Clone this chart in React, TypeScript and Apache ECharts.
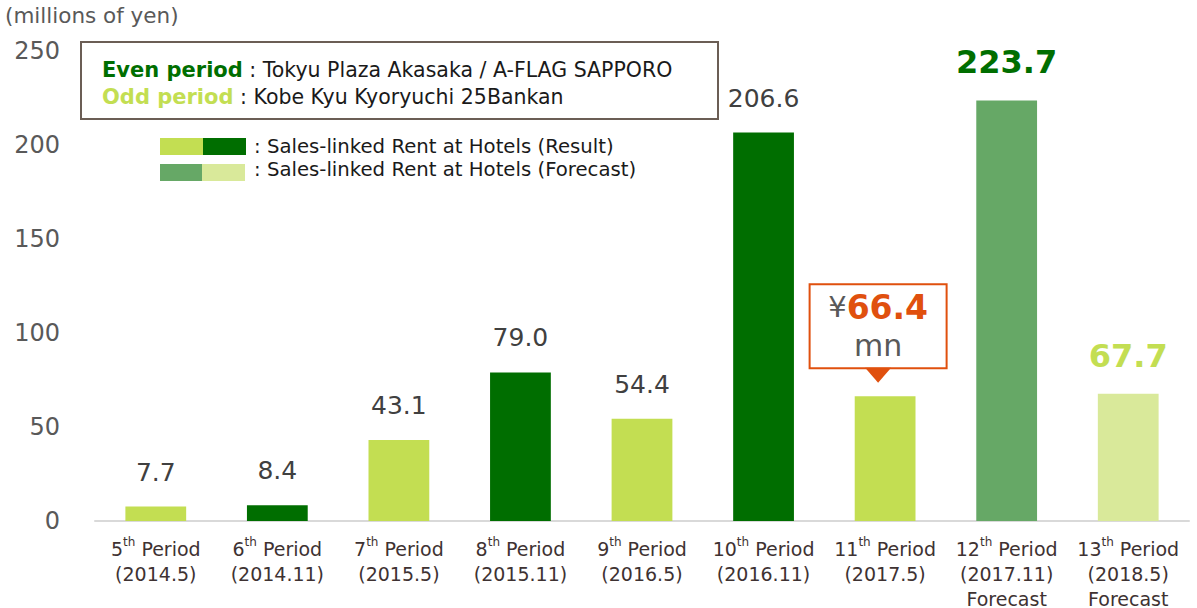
import React, { useEffect, useRef } from "react";
import * as echarts from "echarts";

const periodNums = ["5", "6", "7", "8", "9", "10", "11", "12", "13"];
const periodDates = ["2014.5", "2014.11", "2015.5", "2015.11", "2016.5", "2016.11", "2017.5", "2017.11", "2018.5"];
const isForecast = [false, false, false, false, false, false, false, true, true];
const rentValues = [7.7, 8.4, 43.1, 79.0, 54.4, 206.6, 66.4, 223.7, 67.7];
const yTicks = [0, 50, 100, 150, 200, 250];
const calloutIndex = 6;

const EVEN_RESULT = "#006E00";
const ODD_RESULT = "#C3DE52";
const EVEN_FORECAST = "#66A866";
const ODD_FORECAST = "#D9E99A";
const ORANGE = "#E0500E";
const FONT = "DejaVu Sans";

export default function App() {
  const ref = useRef<HTMLDivElement>(null);
  useEffect(() => {
    if (!ref.current) return;
    const chart = echarts.init(ref.current, null, { renderer: "svg" });
    const data = rentValues.map((v, i) => {
      const even = Number(periodNums[i]) % 2 === 0;
      const color = isForecast[i]
        ? even ? EVEN_FORECAST : ODD_FORECAST
        : even ? EVEN_RESULT : ODD_RESULT;
      const item: any = { value: v, itemStyle: { color } };
      if (i === calloutIndex) {
        item.label = {
          show: true,
          position: "top",
          distance: 29,
          offset: [-7, 0],
          formatter: "{yen|¥}{num|" + v.toFixed(1) + "}\n{mn|mn}",
          backgroundColor: "#fff",
          borderColor: ORANGE,
          borderWidth: 2,
          padding: [3, 0, 3, 0],
          width: 135,
          align: "center",
          rich: {
            yen: { fontSize: 29, color: "#595959", fontFamily: FONT, lineHeight: 38 },
            num: { fontSize: 33, fontWeight: "bold", color: ORANGE, fontFamily: FONT, lineHeight: 38 },
            mn: { fontSize: 30, color: "#595959", fontFamily: FONT, lineHeight: 38 },
          },
        };
      } else if (isForecast[i]) {
        item.label = {
          show: true,
          position: "top",
          distance: 22,
          fontSize: 32,
          fontWeight: "bold",
          color: color === EVEN_FORECAST ? EVEN_RESULT : ODD_RESULT,
        };
      }
      return item;
    });

    chart.setOption({
      animation: false,
      textStyle: { fontFamily: FONT },
      grid: { left: 95, right: 8, top: 51, bottom: 87, containLabel: false },
      xAxis: {
        type: "category",
        data: periodNums,
        axisLine: { lineStyle: { color: "#D9D9D9", width: 2 } },
        axisTick: { show: false },
        axisLabel: {
          margin: 15,
          interval: 0,
          formatter: (_v: string, idx: number) =>
            `{n|${periodNums[idx]}}{s|th}{n| Period}\n{n|(${periodDates[idx]})}` +
            (isForecast[idx] ? "\n{n|Forecast}" : ""),
          rich: {
            n: { fontSize: 19, color: "#3E3232", lineHeight: 25, fontFamily: FONT },
            s: { fontSize: 12, color: "#3E3232", lineHeight: 16, verticalAlign: "top", fontFamily: FONT },
          },
        },
      },
      yAxis: {
        type: "value",
        min: yTicks[0],
        max: yTicks[yTicks.length - 1],
        interval: 50,
        axisLine: { show: false },
        axisTick: { show: false },
        splitLine: { show: false },
        axisLabel: { fontSize: 24, color: "#595959", margin: 35 },
      },
      series: [
        {
          type: "bar",
          data,
          barWidth: "50%",
          label: {
            show: true,
            position: "top",
            distance: 22,
            fontSize: 25,
            color: "#404040",
            formatter: (p: any) => Number(p.value).toFixed(1),
          },
          markPoint: {
            silent: true,
            symbol: "triangle",
            symbolRotate: 180,
            symbolSize: [26, 15],
            symbolOffset: [-7, -21],
            itemStyle: { color: ORANGE },
            label: { show: false },
            data: [{ coord: [calloutIndex, rentValues[calloutIndex]] }],
          },
        },
      ],
      graphic: [
        { type: "text", left: 5, top: 4, style: { text: "(millions of yen)", fontSize: 21.5, fill: "#595959", fontFamily: FONT } },
        {
          type: "rect",
          shape: { x: 81, y: 42, width: 637, height: 77 },
          style: { fill: "#fff", stroke: "#6B5E55", lineWidth: 2 },
        },
        {
          type: "text",
          x: 102,
          y: 70,
          style: {
            text: "{e|Even period}{t| : Tokyu Plaza Akasaka / A-FLAG SAPPORO}",
            verticalAlign: "middle",
            rich: {
              e: { fontSize: 21, fontWeight: "bold", fill: EVEN_RESULT, fontFamily: FONT },
              t: { fontSize: 20.5, fill: "#1a1a1a", fontFamily: FONT },
            },
          },
        },
        {
          type: "text",
          x: 102,
          y: 97,
          style: {
            text: "{o|Odd period}{t| : Kobe Kyu Kyoryuchi 25Bankan}",
            verticalAlign: "middle",
            rich: {
              o: { fontSize: 21, fontWeight: "bold", fill: ODD_RESULT, fontFamily: FONT },
              t: { fontSize: 20.5, fill: "#1a1a1a", fontFamily: FONT },
            },
          },
        },
        { type: "rect", shape: { x: 160, y: 138, width: 43, height: 17 }, style: { fill: ODD_RESULT } },
        { type: "rect", shape: { x: 203, y: 138, width: 43, height: 17 }, style: { fill: EVEN_RESULT } },
        { type: "rect", shape: { x: 160, y: 164, width: 42, height: 17 }, style: { fill: EVEN_FORECAST } },
        { type: "rect", shape: { x: 202, y: 164, width: 43, height: 17 }, style: { fill: ODD_FORECAST } },
        {
          type: "text",
          x: 254,
          y: 146,
          style: { text: ": Sales-linked Rent at Hotels (Result)", fontSize: 19.7, fill: "#1a1a1a", verticalAlign: "middle", fontFamily: FONT },
        },
        {
          type: "text",
          x: 254,
          y: 169,
          style: { text: ": Sales-linked Rent at Hotels (Forecast)", fontSize: 19.7, fill: "#1a1a1a", verticalAlign: "middle", fontFamily: FONT },
        },
      ],
    });
    return () => chart.dispose();
  }, []);
  return <div ref={ref} style={{ position: "absolute", left: 0, top: 0, width: 1197, height: 608 }} />;
}
